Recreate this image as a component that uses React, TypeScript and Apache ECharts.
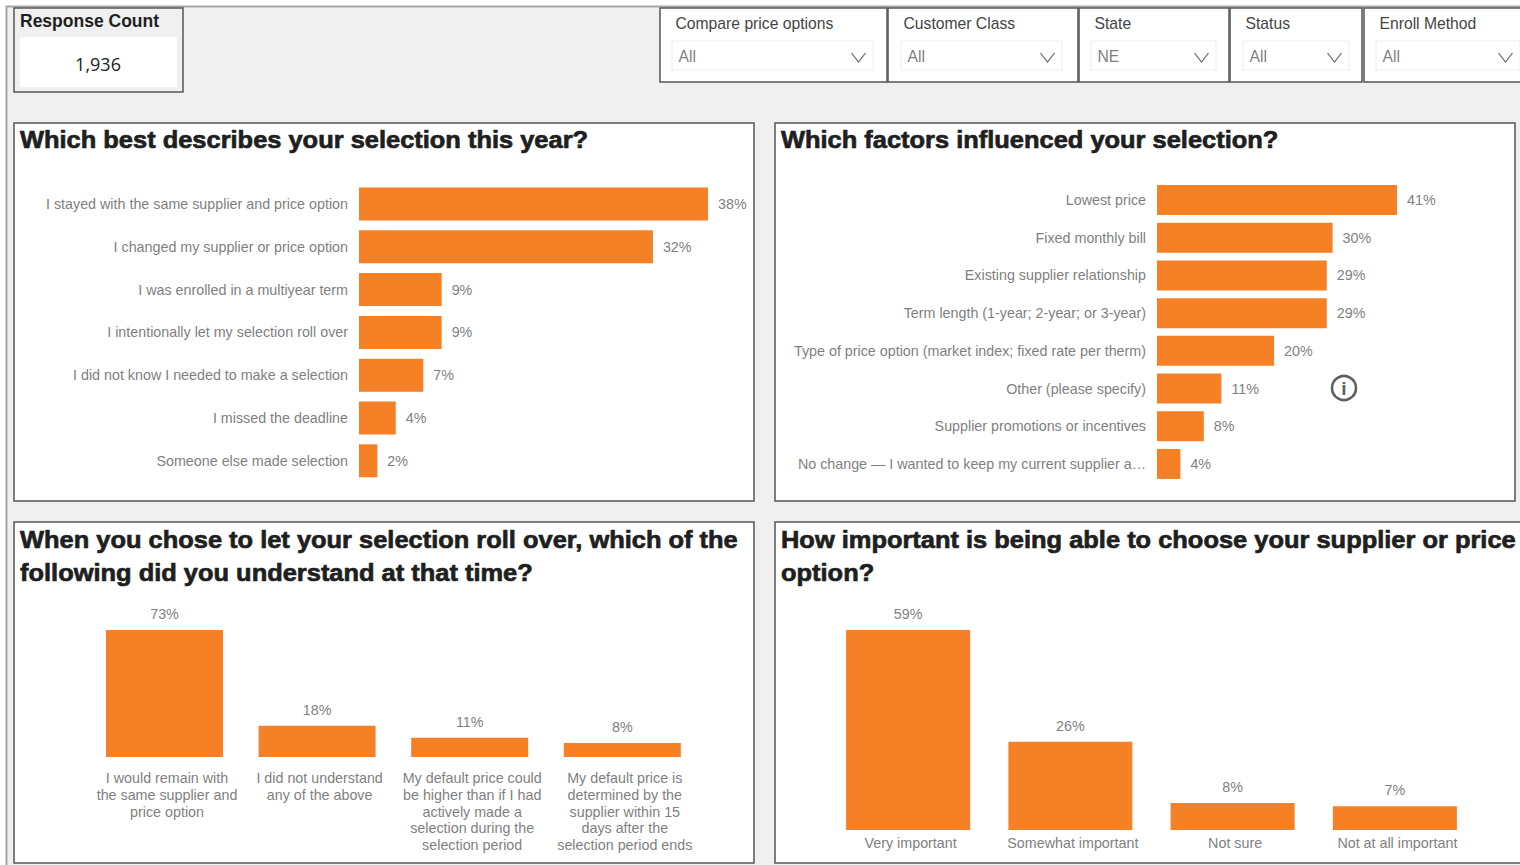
import React, { useEffect, useRef } from "react";
import * as echarts from "echarts";

const selectionLabels = [
  "I stayed with the same supplier and price option",
  "I changed my supplier or price option",
  "I was enrolled in a multiyear term",
  "I intentionally let my selection roll over",
  "I did not know I needed to make a selection",
  "I missed the deadline",
  "Someone else made selection",
];
const selectionValues = [38, 32, 9, 9, 7, 4, 2];

const factorLabels = [
  "Lowest price",
  "Fixed monthly bill",
  "Existing supplier relationship",
  "Term length (1-year; 2-year; or 3-year)",
  "Type of price option (market index; fixed rate per therm)",
  "Other (please specify)",
  "Supplier promotions or incentives",
  "No change — I wanted to keep my current supplier a…",
];
const factorValues = [41, 30, 29, 29, 20, 11, 8, 4];

const rolloverLabels = [
  "I would remain with\nthe same supplier and\nprice option",
  "I did not understand\nany of the above",
  "My default price could\nbe higher than if I had\nactively made a\nselection during the\nselection period",
  "My default price is\ndetermined by the\nsupplier within 15\ndays after the\nselection period ends",
];
const rolloverValues = [73, 18, 11, 8];

const importanceLabels = ["Very important", "Somewhat important", "Not sure", "Not at all important"];
const importanceValues = [59, 26, 8, 7];

const slicers = [
  { title: "Compare price options", value: "All", x: 660, w: 227, bx: 672, bw: 201 },
  { title: "Customer Class", value: "All", x: 888, w: 190, bx: 901, bw: 161 },
  { title: "State", value: "NE", x: 1079, w: 150, bx: 1091, bw: 125 },
  { title: "Status", value: "All", x: 1230, w: 132, bx: 1243, bw: 106 },
  { title: "Enroll Method", value: "All", x: 1364, w: 170, bx: 1376, bw: 144 },
];

const FONT = "'Liberation Sans', Arial, sans-serif";
const ORANGE = "#F58025";
const GREY = "#7f7f7f";
const INK = "#1f1f1f";
const EDGE = "#555555";
const LABEL_SIZE = 14.3;

function frame(x: number, y: number, width: number, height: number, fill = "#ffffff", stroke = EDGE, lineWidth = 1.5) {
  return { type: "rect", z: 0, shape: { x, y, width, height }, style: { fill, stroke, lineWidth } };
}

// Panel headings are a heavy, wide grotesque: bold type stretched a little and thickened with a hairline stroke.
function caption(text: string, x: number, y: number) {
  return {
    type: "text",
    z: 1,
    x,
    y,
    scaleX: 1.06,
    style: { text, fill: INK, stroke: INK, lineWidth: 0.7, font: `bold 24px ${FONT}`, verticalAlign: "middle" },
  };
}

function plainText(text: string, x: number, y: number, fill: string, font: string, align = "left", z = 1) {
  return { type: "text", z, x, y, style: { text, fill, font, align, verticalAlign: "middle" } };
}

function slicerGraphics() {
  const items: any[] = [];
  slicers.forEach((s) => {
    items.push(frame(s.x, 8, s.w, 74));
    items.push(plainText(s.title, s.x + 15.5, 23, "#444444", `15.7px ${FONT}`));
    items.push({
      type: "rect",
      z: 1,
      shape: { x: s.bx, y: 41, width: s.bw, height: 29 },
      style: { fill: "#ffffff", stroke: "#eeeeee", lineWidth: 1 },
    });
    items.push(plainText(s.value, s.bx + 6.5, 56, GREY, `15.7px ${FONT}`));
    const cx = s.bx + s.bw - 14.5;
    items.push({
      type: "polyline",
      z: 1,
      shape: { points: [[cx - 7, 53], [cx, 62], [cx + 7, 53]] },
      style: { fill: "none", stroke: "#666666", lineWidth: 1.2 },
    });
  });
  return items;
}

function horizontalBars(index: number, left: number, top: number, width: number, height: number, max: number, labels: string[], values: number[], barWidth: number) {
  return {
    grid: { left, top, width, height },
    xAxis: { type: "value", gridIndex: index, min: 0, max, show: false },
    yAxis: {
      type: "category",
      gridIndex: index,
      inverse: true,
      data: labels,
      axisLine: { show: false },
      axisTick: { show: false },
      axisLabel: { color: GREY, fontFamily: FONT, fontSize: LABEL_SIZE, margin: 11, interval: 0 },
    },
    series: {
      type: "bar",
      xAxisIndex: index,
      yAxisIndex: index,
      data: values,
      barWidth,
      itemStyle: { color: ORANGE },
      label: { show: true, position: "right", distance: 10, formatter: "{c}%", color: GREY, fontFamily: FONT, fontSize: LABEL_SIZE },
    },
  };
}

function verticalBars(index: number, left: number, top: number, width: number, height: number, max: number, labels: string[], values: number[], barWidth: number, margin: number) {
  return {
    grid: { left, top, width, height },
    xAxis: {
      type: "category",
      gridIndex: index,
      data: labels,
      axisLine: { show: false },
      axisTick: { show: false },
      axisLabel: {
        color: GREY,
        fontFamily: FONT,
        fontSize: LABEL_SIZE,
        margin,
        interval: 0,
        lineHeight: 16.7,
        padding: [0, 0, 0, 5],
      },
    },
    yAxis: { type: "value", gridIndex: index, min: 0, max, show: false },
    series: {
      type: "bar",
      xAxisIndex: index,
      yAxisIndex: index,
      data: values,
      barWidth,
      itemStyle: { color: ORANGE },
      label: { show: true, position: "top", distance: 9, formatter: "{c}%", color: GREY, fontFamily: FONT, fontSize: LABEL_SIZE },
    },
  };
}

export default function App() {
  const ref = useRef<HTMLDivElement>(null);

  useEffect(() => {
    document.body.style.margin = "0";
    const chart = echarts.init(ref.current!, undefined, { renderer: "svg" });

    const panels = [
      horizontalBars(0, 359, 182.6, 367.4, 299.6, 40, selectionLabels, selectionValues, 33),
      horizontalBars(1, 1157, 181.2, 240, 301.6, 41, factorLabels, factorValues, 30),
      verticalBars(2, 88.2, 630, 610.4, 127, 73, rolloverLabels, rolloverValues, 117, 13),
      verticalBars(3, 827, 630, 649, 200, 59, importanceLabels, importanceValues, 124, 5),
    ];

    chart.setOption({
      animation: false,
      backgroundColor: "#ffffff",
      grid: panels.map((p) => p.grid),
      xAxis: panels.map((p) => p.xAxis),
      yAxis: panels.map((p) => p.yAxis),
      series: panels.map((p) => p.series),
      graphic: [
        frame(6.5, 6.5, 1530, 880, "#f0f0f0", "#a6a6a6", 2),
        frame(14, 8, 169, 84, "#f0f0f0"),
        { type: "rect", z: 1, shape: { x: 20, y: 37, width: 157, height: 50 }, style: { fill: "#ffffff" } },
        plainText("Response Count", 20, 21, INK, `bold 17.5px ${FONT}`),
        plainText("1,936", 98, 63.5, "#222222", `18px 'Open Sans', ${FONT}`, "center"),
        ...slicerGraphics(),
        frame(14, 123, 740, 378),
        frame(775, 123, 740, 378),
        frame(14, 522, 740, 341),
        frame(775, 522, 780, 341),
        caption("Which best describes your selection this year?", 20, 139.5),
        caption("Which factors influenced your selection?", 781, 139.5),
        caption("When you chose to let your selection roll over, which of the", 20, 539.5),
        caption("following did you understand at that time?", 20, 572.5),
        caption("How important is being able to choose your supplier or price", 781, 539.5),
        caption("option?", 781, 572.5),
        { type: "circle", z: 3, shape: { cx: 1344, cy: 388, r: 12 }, style: { fill: "#ffffff", stroke: "#5f5f5f", lineWidth: 2.6 } },
        plainText("i", 1344, 388, "#5f5f5f", `bold 19px ${FONT}`, "center", 4),
      ],
    });

    return () => chart.dispose();
  }, []);

  return <div ref={ref} style={{ width: 1520, height: 865 }} />;
}
